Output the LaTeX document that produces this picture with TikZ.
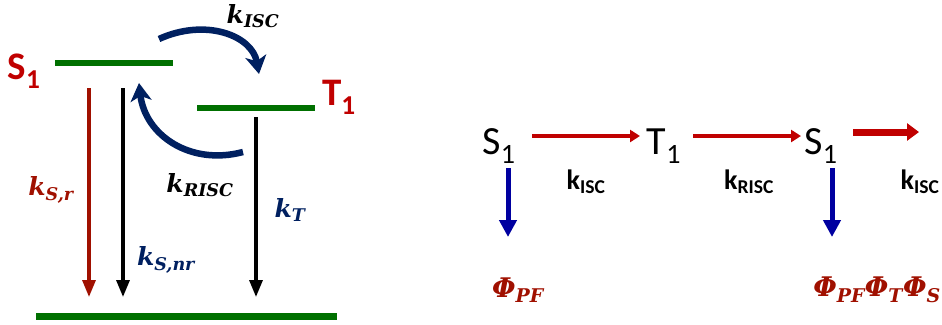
\documentclass[tikz,border=0pt]{standalone}
\usepackage{fontspec}
\setmainfont{Carlito}
\newfontfamily\rateFont{DejaVu Serif}
\usetikzlibrary{arrows.meta}
\definecolor{lvlgreen}{RGB}{0,112,0}
\definecolor{stred}{RGB}{192,0,0}
\definecolor{darkred}{RGB}{160,16,0}
\definecolor{navy}{RGB}{0,32,96}
\definecolor{deepblue}{RGB}{0,0,160}
\newcommand{\rate}[2]{{\rateFont\bfseries\itshape #1\textsubscript{#2}}}
\tikzset{
  level/.style={draw=lvlgreen,line width=5.5pt},
  decay/.style={line width=3.2pt,-{Triangle[length=17pt,width=13pt]}},
  swap/.style={draw=navy,line width=6.5pt,-{Stealth[length=18pt,width=21pt,inset=5pt]}},
  chain/.style={draw=stred,line width=4.5pt,-{Triangle[length=10pt,width=12pt]}},
  emit/.style={draw=deepblue,line width=5pt,-{Triangle[length=17pt,width=17pt]}},
  state/.style={font=\fontsize{40}{42}\selectfont,inner sep=0pt},
  bigstate/.style={font=\fontsize{39}{41}\selectfont\bfseries,text=stred,inner sep=0pt},
  ratelbl/.style={font=\fontsize{25}{27}\selectfont,inner sep=0pt},
  philbl/.style={font=\fontsize{27}{29}\selectfont,text=darkred,inner sep=0pt},
  kbold/.style={font=\fontsize{28}{30}\selectfont\bfseries,inner sep=0pt},
}
\begin{document}
\begin{tikzpicture}[x=1pt,y=-1pt]
\useasboundingbox (0,0) rectangle (942,324);

% ---- Jablonski-type scheme ----
\coordinate (s1l) at (55,63);  \coordinate (s1r) at (173,63);
\coordinate (t1l) at (197,108); \coordinate (t1r) at (315,108);
\coordinate (gl) at (36,316);   \coordinate (gr) at (337,316);
\draw[level] (s1l) -- (s1r);
\draw[level] (t1l) -- (t1r);
\draw[level,line width=7pt] (gl) -- (gr);

\node[bigstate] (lS1) at (24,71) {S\textsubscript{1}};
\node[bigstate] (lT1) at (339,97) {T\textsubscript{1}};

\coordinate (ra) at (89,88);  \coordinate (rb) at (89,297);
\coordinate (na) at (123,88); \coordinate (nb) at (123,297);
\coordinate (ta) at (256,117); \coordinate (tb) at (256,297);
\draw[decay,draw=darkred,color=darkred] (ra) -- (rb);
\draw[decay] (na) -- (nb);
\draw[decay] (ta) -- (tb);

\coordinate (iscA) at (159,39); \coordinate (iscB) at (259,74);
\draw[swap] (iscA) .. controls (205,18) and (252,35) .. (iscB);
\coordinate (riscA) at (243,152); \coordinate (riscB) at (139,83);
\draw[swap] (riscA) .. controls (190,166) and (145,135) .. (riscB);

\node[ratelbl] (kisc) at (253,16) {\rate{k}{ISC}};
\node[ratelbl] (krisc) at (200,185) {\rate{k}{RISC}};
\node[ratelbl,text=darkred] (ksr) at (51,190) {\rate{k}{S,r}};
\node[ratelbl,text=navy] (ksnr) at (166,260) {\rate{k}{S,nr}};
\node[ratelbl,text=navy] (kt) at (290,210) {\rate{k}{T}};

% ---- kinetic chain ----
\node[state] (c1) at (499,146) {S\textsubscript{1}};
\node[state] (c2) at (664,146) {T\textsubscript{1}};
\node[state] (c3) at (821,146) {S\textsubscript{1}};
\coordinate (a1) at (532,136); \coordinate (a2) at (640,136);
\coordinate (b1) at (693,136); \coordinate (b2) at (801,136);
\coordinate (e1) at (853,132); \coordinate (e2) at (919,132);
\draw[chain] (a1) -- (a2);
\draw[chain] (b1) -- (b2);
\draw[chain,line width=7pt,-{Triangle[length=12pt,width=17pt]}] (e1) -- (e2);

\node[kbold] (l1) at (586,182) {k\textsubscript{ISC}};
\node[kbold] (l2) at (749,182) {k\textsubscript{RISC}};
\node[kbold] (l3) at (920,182) {k\textsubscript{ISC}};

\node[philbl] (p1) at (518,290) {\rate{Φ}{PF}};
\node[philbl] (p2) at (877,290) {\rate{Φ}{PF}\rate{Φ}{T}\rate{Φ}{S}};

\coordinate (d1) at (508,168); \coordinate (d1e) at (508,237);
\coordinate (d3) at (832,168); \coordinate (d3e) at (832,237);
\draw[emit] (d1) -- (d1e);
\draw[emit] (d3) -- (d3e);
\end{tikzpicture}
\end{document}
